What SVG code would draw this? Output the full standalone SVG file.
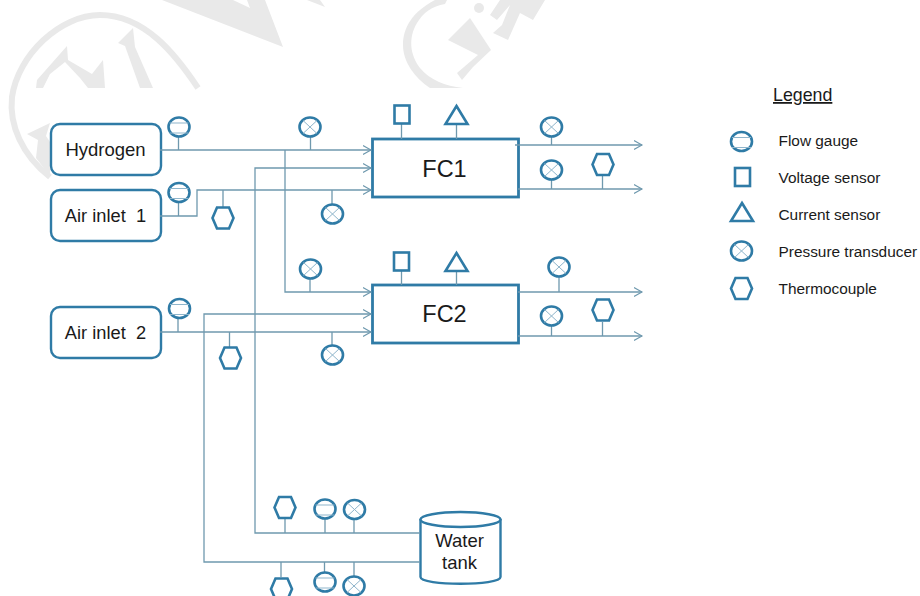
<svg xmlns="http://www.w3.org/2000/svg" width="920" height="596" viewBox="0 0 920 596">
<style>
.t{font-family:"Liberation Sans",Arial,sans-serif;fill:#1a1a1a}
.n{fill:#fff;stroke:#2f7ba6;stroke-width:2.400}
.s{fill:none;stroke:#2f7ba6;stroke-width:2.600}
.x{fill:none;stroke:#8fb5cb;stroke-width:1}
.c{fill:none;stroke:#6f99ae;stroke-width:1.300}
.w{fill:#e9e9e9;stroke:none}
.ws{fill:none;stroke:#e9e9e9;stroke-width:6}
</style>
<defs>
<marker id="a" markerWidth="10" markerHeight="12" refX="8" refY="5" orient="auto" markerUnits="userSpaceOnUse" viewBox="0 0 10 10"><path d="M0 0.500L8 5L0 9.500" fill="none" stroke="#6f99ae" stroke-width="1.100"/></marker>
<g id="fg"><ellipse rx="10.500" ry="9.500" class="s"/><path d="M-9.500-4H9.500M-9.500 6H9.500" class="x"/></g>
<g id="pt"><ellipse rx="10.500" ry="9.500" class="s"/><path d="M-7-6.500L7 6.500M-7 6.500L7-6.500" class="x"/></g>
<path id="tc" d="M-6-10.500H6L10.500 0L6 10.500H-6L-10.500 0Z" class="s"/>
<rect id="vs" x="-7.500" y="-9" width="15" height="18" class="s"/>
<path id="cs" d="M0-9L11 9H-11Z" class="s"/>
</defs>
<g id="watermark">
<path class="w" d="M162 0L283 47L265 0H247L250 8L233 0Z"/>
<path class="w" d="M307 0L325 7L320 0Z"/>
<path class="ws" d="M50 177C22 155 9 125 12 97C18 55 60 15 100 15C145 15 176 55 198 88"/>
<path class="w" d="M67 46L37 80L36 88H43L50 74L65 62L80 78L88 88H105L103 60L92 74L68 60Z"/>
<path class="w" d="M133 28L118 43L125 46L140 88H153L135 47Z"/>
<path class="w" d="M27 134L50 123L46 136L50 142V176L36 158L38 140Z"/>
<path class="w" d="M435 0C412 12 403 28 403 45C403 62 415 78 430 88H463C445 86 430 80 420 68C410 55 408 38 417 23C423 13 432 6 445 4L447 0Z"/>
<path class="w" d="M448 40L470 18L491 50L473 67L462 80L457 73L478 55Z"/>
<circle class="w" cx="479" cy="8" r="5"/>
<path class="w" d="M493 33L508 40L520 13L533 20L545 0H500L490 15L497 20L510 5L502 25Z"/>
</g>
<g id="hydrogen"><rect class="n" x="51" y="124" width="110" height="51" rx="9"/><text class="t" x="105.500" y="156" font-size="18.500" text-anchor="middle">Hydrogen</text></g>
<g id="air1"><rect class="n" x="51" y="190" width="110" height="51" rx="9"/><text class="t" x="105.500" y="222" font-size="18.300" text-anchor="middle" xml:space="preserve">Air inlet  1</text></g>
<g id="air2"><rect class="n" x="51" y="307" width="110" height="51" rx="9"/><text class="t" x="105.500" y="339" font-size="18.300" text-anchor="middle" xml:space="preserve">Air inlet  2</text></g>
<g id="fc1"><rect class="n" x="372.500" y="139" width="146" height="58" style="stroke-width:2.800"/><text class="t" x="444.500" y="176.500" font-size="23.500" text-anchor="middle">FC1</text></g>
<g id="fc2"><rect class="n" x="372.500" y="285" width="146" height="58" style="stroke-width:2.800"/><text class="t" x="444.500" y="322" font-size="23.500" text-anchor="middle">FC2</text></g>
<g id="tank">
<path class="n" d="M420.500 520V577C420.500 586 500.500 586 500.500 577V520Z"/>
<ellipse class="n" cx="460.500" cy="519.500" rx="40" ry="7.500"/>
<text class="t" x="459.500" y="547" font-size="18.500" text-anchor="middle">Water</text>
<text class="t" x="459.500" y="569" font-size="18.500" text-anchor="middle">tank</text>
</g>
<g id="connectors">
<path class="c" marker-end="url(#a)" d="M160 150H371"/>
<path class="c" marker-end="url(#a)" d="M285 150V292H371"/>
<path class="c" marker-end="url(#a)" d="M420 533H255V168H371"/>
<path class="c" marker-end="url(#a)" d="M160 216H197V190H371"/>
<path class="c" marker-end="url(#a)" d="M160 332H371"/>
<path class="c" marker-end="url(#a)" d="M420 562H204V314H371"/>
<path class="c" marker-end="url(#a)" d="M515 145H642"/>
<path class="c" marker-end="url(#a)" d="M518 189H642"/>
<path class="c" marker-end="url(#a)" d="M518 292H642"/>
<path class="c" marker-end="url(#a)" d="M518 336H642"/>
<path class="c" d="M178.500 137V150M178.500 202V216M178 318V332M223 190V207M310.500 137V150M332 190V204M310 279V292M332 332V345M229.500 332V347M401.500 124V139M456.500 124V139M401.500 270V285M456.500 270V285M551.500 137V145M551.500 180V189M602.500 176V189M559 277V292M551.500 326V336M602.500 322V336M285 519V533M325 519V533M354 519V533M281 562V577M324.500 562V572M354 562V576"/>
</g>
<g id="sensors">
<use href="#fg" x="179" y="127"/><use href="#fg" x="179" y="192.500"/><use href="#fg" x="179.500" y="308.500"/>
<use href="#tc" x="223" y="218"/><use href="#tc" x="230.500" y="358"/>
<use href="#pt" x="310" y="127"/><use href="#pt" x="332.500" y="214"/><use href="#pt" x="310.500" y="269"/><use href="#pt" x="332.500" y="355"/>
<use href="#vs" x="402" y="114.500"/><use href="#cs" x="456.500" y="115"/><use href="#vs" x="401.500" y="261.500"/><use href="#cs" x="456.500" y="262"/>
<use href="#pt" x="551.500" y="127"/><use href="#pt" x="551.500" y="170"/><use href="#tc" x="603" y="164.500"/>
<use href="#pt" x="559" y="267"/><use href="#pt" x="551.500" y="316"/><use href="#tc" x="603" y="310"/>
<use href="#tc" x="285" y="507.500"/><use href="#fg" x="325" y="509"/><use href="#pt" x="354.500" y="509.500"/>
<use href="#tc" x="281.500" y="589"/><use href="#fg" x="325" y="582"/><use href="#pt" x="354" y="586"/>
</g>
<g id="legend">
<text class="t" x="773" y="101" font-size="17.800" text-decoration="underline">Legend</text>
<use href="#fg" x="741.500" y="141.500"/><text class="t" x="778.500" y="146" font-size="15.400">Flow gauge</text>
<use href="#vs" x="742.500" y="177"/><text class="t" x="778.500" y="183" font-size="15.400">Voltage sensor</text>
<use href="#cs" x="742" y="212"/><text class="t" x="778.500" y="220" font-size="15.400">Current sensor</text>
<use href="#pt" x="741.500" y="251"/><text class="t" x="778.500" y="257" font-size="15.400">Pressure transducer</text>
<use href="#tc" x="741.500" y="288.500"/><text class="t" x="778.500" y="294" font-size="15.400">Thermocouple</text>
</g>
</svg>
